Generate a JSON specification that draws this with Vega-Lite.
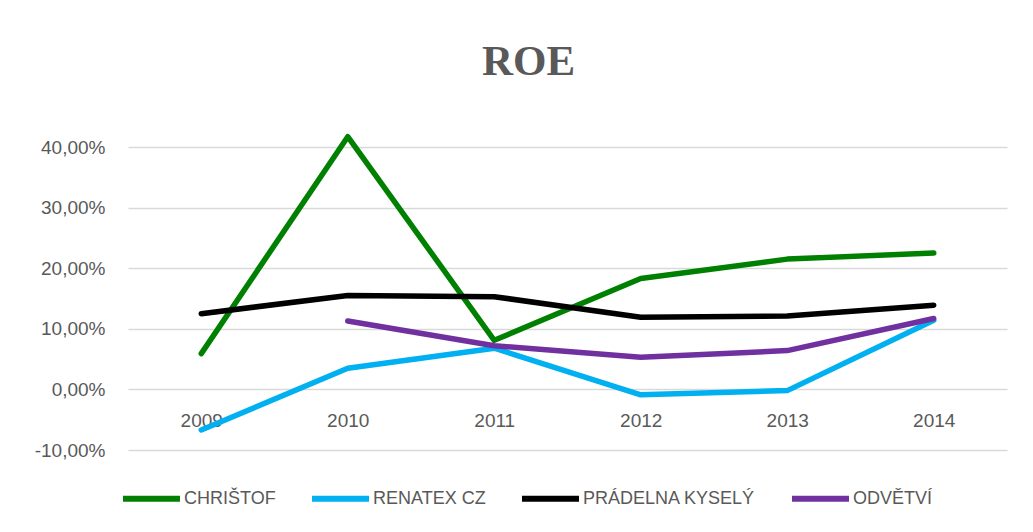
{
  "$schema": "https://vega.github.io/schema/vega-lite/v6.json",
  "width": 879,
  "height": 303,
  "autosize": {"type": "none"},
  "padding": {"left": 128, "top": 147, "right": 26, "bottom": 82},
  "background": "white",
  "title": {
    "text": "ROE",
    "font": "Liberation Serif",
    "fontSize": 43,
    "fontWeight": "bold",
    "color": "#595959",
    "anchor": "middle",
    "frame": "group",
    "dx": -39,
    "offset": 50
  },
  "config": {
    "locale": {
      "number": {"decimal": ",", "thousands": " ", "grouping": [3], "currency": ["", " Kč"], "minus": "-"}
    },
    "view": {"stroke": null},
    "font": "Liberation Sans"
  },
  "data": {
    "values": [
      {"year": "2009", "series": "CHRIŠTOF", "roe": 0.059},
      {"year": "2010", "series": "CHRIŠTOF", "roe": 0.417},
      {"year": "2011", "series": "CHRIŠTOF", "roe": 0.081},
      {"year": "2012", "series": "CHRIŠTOF", "roe": 0.183},
      {"year": "2013", "series": "CHRIŠTOF", "roe": 0.215},
      {"year": "2014", "series": "CHRIŠTOF", "roe": 0.225},
      {"year": "2009", "series": "RENATEX CZ", "roe": -0.067},
      {"year": "2010", "series": "RENATEX CZ", "roe": 0.035},
      {"year": "2011", "series": "RENATEX CZ", "roe": 0.068},
      {"year": "2012", "series": "RENATEX CZ", "roe": -0.009},
      {"year": "2013", "series": "RENATEX CZ", "roe": -0.002},
      {"year": "2014", "series": "RENATEX CZ", "roe": 0.114},
      {"year": "2009", "series": "PRÁDELNA KYSELÝ", "roe": 0.125},
      {"year": "2010", "series": "PRÁDELNA KYSELÝ", "roe": 0.155},
      {"year": "2011", "series": "PRÁDELNA KYSELÝ", "roe": 0.153},
      {"year": "2012", "series": "PRÁDELNA KYSELÝ", "roe": 0.119},
      {"year": "2013", "series": "PRÁDELNA KYSELÝ", "roe": 0.121},
      {"year": "2014", "series": "PRÁDELNA KYSELÝ", "roe": 0.139},
      {"year": "2010", "series": "ODVĚTVÍ", "roe": 0.113},
      {"year": "2011", "series": "ODVĚTVÍ", "roe": 0.072},
      {"year": "2012", "series": "ODVĚTVÍ", "roe": 0.053},
      {"year": "2013", "series": "ODVĚTVÍ", "roe": 0.064},
      {"year": "2014", "series": "ODVĚTVÍ", "roe": 0.117}
    ]
  },
  "mark": {"type": "line", "strokeWidth": 5.5, "strokeCap": "round", "strokeJoin": "round", "clip": false},
  "encoding": {
    "x": {
      "field": "year",
      "type": "ordinal",
      "scale": {"type": "point", "padding": 0.5},
      "axis": {
        "title": null,
        "orient": "bottom",
        "offset": -61,
        "domain": false,
        "ticks": false,
        "grid": false,
        "labelAngle": 0,
        "labelFontSize": 19,
        "labelColor": "#595959",
        "labelPadding": 22
      }
    },
    "y": {
      "field": "roe",
      "type": "quantitative",
      "scale": {"domain": [-0.1, 0.4], "nice": false, "zero": false},
      "axis": {
        "title": null,
        "values": [-0.1, 0, 0.1, 0.2, 0.3, 0.4],
        "format": ".2%",
        "domain": false,
        "ticks": false,
        "grid": true,
        "gridColor": "#d9d9d9",
        "gridWidth": 1.3,
        "labelFontSize": 19,
        "labelColor": "#595959",
        "labelPadding": 23
      }
    },
    "color": {
      "field": "series",
      "type": "nominal",
      "scale": {
        "domain": ["CHRIŠTOF", "RENATEX CZ", "PRÁDELNA KYSELÝ", "ODVĚTVÍ"],
        "range": ["#008000", "#00B0F0", "#000000", "#7030A0"]
      },
      "legend": {
        "title": null,
        "orient": "none",
        "direction": "horizontal",
        "legendX": -8,
        "legendY": 320,
        "symbolType": "stroke",
        "symbolSize": 3249,
        "symbolStrokeWidth": 6,
        "labelFontSize": 18,
        "labelColor": "#595959",
        "labelOffset": 1,
        "labelLimit": 400,
        "columnPadding": 24
      }
    }
  }
}
